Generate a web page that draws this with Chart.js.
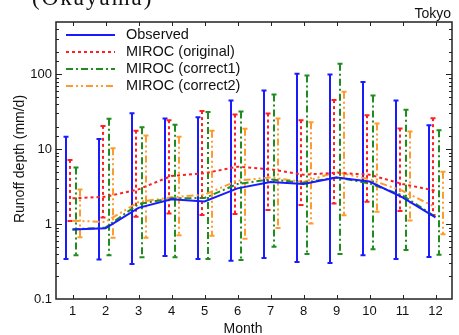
<!DOCTYPE html>
<html>
<head>
<meta charset="utf-8">
<script src="https://cdn.jsdelivr.net/npm/chart.js@4.4.1/dist/chart.umd.min.js"></script>
<style>
body { margin: 0; background: #fff; }
</style>
</head>
<body>
<canvas id="runoff" width="459" height="335"></canvas>
<script>
// monthly runoff depth (mm/d), Tokyo
var months = [1, 2, 3, 4, 5, 6, 7, 8, 9, 10, 11, 12];
var yLabels = [0.1, 1, 10, 100];

var obsMean = [0.85, 0.88, 1.65, 2.14, 2.01, 3.0, 3.65, 3.43, 4.2, 3.7, 2.28, 1.23];
var obsHigh = [14.7, 13.7, 30.3, 25.7, 26.8, 44.7, 60.9, 102, 99.7, 78.9, 44.7, 20.9];
var obsLow = [0.343, 0.337, 0.294, 0.376, 0.343, 0.323, 0.354, 0.313, 0.303, 0.385, 0.343, 0.365];

var origMean = [2.21, 2.32, 2.91, 4.4, 4.77, 5.85, 5.4, 4.57, 4.85, 4.57, 3.43, 2.79];
var origHigh = [7.2, 20.5, 17.7, 24.4, 32.3, 29, 30, 24.4, 45.3, 28.5, 18.9, 26];
var origLow = [1.1, 1.23, 1.25, 1.39, 1.32, 1.36, 1.54, 1.8, 1.89, 1.99, 1.5, 1.32];

var c1Mean = [0.85, 0.9, 1.85, 2.21, 2.23, 3.43, 3.96, 3.57, 4.2, 3.5, 2.42, 1.25];
var c1High = [5.7, 25.5, 19.7, 21.3, 31.3, 31.9, 53.8, 96.7, 139, 52.2, 33.6, 17.9];
var c1Low = [0.385, 0.385, 0.362, 0.362, 0.343, 0.333, 0.5, 0.4, 0.4, 0.46, 0.45, 0.39];

var c2Mean = [1.11, 1.07, 1.97, 2.28, 2.47, 3.8, 4.2, 3.65, 4.97, 3.96, 2.79, 1.68];
var c2High = [2.9, 10.3, 15.2, 14.7, 17.7, 18.7, 25.7, 23, 58.5, 22, 17.2, 5.0];
var c2Low = [0.67, 0.66, 0.66, 0.71, 0.70, 0.64, 0.89, 1.02, 1.31, 1.46, 1.12, 0.73];

var FONT = '"Liberation Sans", Arial, sans-serif';

function pts(vals) {
    return months.map(function (m, i) { return { x: m, y: vals[i] }; });
}

function series(label, mean, lo, hi, color, dash, shift) {
    return {
        label: label,
        data: pts(mean),
        lo: lo,
        hi: hi,
        shift: shift,
        borderColor: color,
        backgroundColor: color,
        borderDash: dash,
        borderWidth: 2,
        pointRadius: 0,
        fill: false,
        tension: 0
    };
}

// error bars, frame, inward ticks, legend and labels
var decor = {
    id: 'decor',
    beforeDatasetsDraw: function (chart) {
        var ctx = chart.ctx, xs = chart.scales.x, ys = chart.scales.y, a = chart.chartArea;
        ctx.save();
        ctx.beginPath();
        ctx.rect(a.left, a.top, a.right - a.left, a.bottom - a.top);
        ctx.clip();
        chart.data.datasets.forEach(function (ds) {
            ctx.strokeStyle = ds.borderColor;
            ctx.lineWidth = 2;
            months.forEach(function (m, i) {
                var x = Math.round(xs.getPixelForValue(m + ds.shift));
                var y1 = ys.getPixelForValue(ds.hi[i]);
                var y2 = ys.getPixelForValue(ds.lo[i]);
                ctx.setLineDash(ds.borderDash);
                ctx.beginPath();
                ctx.moveTo(x, y1);
                ctx.lineTo(x, y2);
                ctx.stroke();
                ctx.setLineDash([]);
                ctx.beginPath();
                ctx.moveTo(x - 2.5, y1);
                ctx.lineTo(x + 2.5, y1);
                ctx.moveTo(x - 2.5, y2);
                ctx.lineTo(x + 2.5, y2);
                ctx.stroke();
            });
        });
        ctx.restore();
    },
    afterDraw: function (chart) {
        var ctx = chart.ctx, xs = chart.scales.x, ys = chart.scales.y, a = chart.chartArea;
        ctx.save();
        ctx.strokeStyle = '#222';
        ctx.lineWidth = 1.5;
        ctx.strokeRect(a.left, a.top, a.right - a.left, a.bottom - a.top);

        ctx.lineWidth = 1;
        ctx.beginPath();
        xs.ticks.forEach(function (t) {
            var x = Math.round(xs.getPixelForValue(t.value)) + 0.5;
            ctx.moveTo(x, a.bottom);
            ctx.lineTo(x, a.bottom - 4);
            ctx.moveTo(x, a.top);
            ctx.lineTo(x, a.top + 4);
        });
        ys.ticks.forEach(function (t) {
            var lg = Math.log10(t.value);
            var len = Math.abs(lg - Math.round(lg)) < 1e-6 ? 6 : 3;
            var y = Math.round(ys.getPixelForValue(t.value)) + 0.5;
            if (y < a.top + 1 || y > a.bottom - 1) return;
            ctx.moveTo(a.left, y);
            ctx.lineTo(a.left + len, y);
            ctx.moveTo(a.right, y);
            ctx.lineTo(a.right - len, y);
        });
        ctx.stroke();

        // legend
        ctx.font = '14.5px ' + FONT;
        ctx.textBaseline = 'middle';
        ctx.fillStyle = '#111';
        chart.data.datasets.forEach(function (ds, i) {
            var y = 35 + i * 17;
            ctx.strokeStyle = ds.borderColor;
            ctx.lineWidth = 2;
            ctx.setLineDash(ds.borderDash);
            ctx.beginPath();
            ctx.moveTo(66, y);
            ctx.lineTo(115, y);
            ctx.stroke();
            ctx.setLineDash([]);
            ctx.fillText(ds.label, 126, y);
        });

        // titles
        ctx.font = '14px ' + FONT;
        ctx.fillStyle = '#111';
        ctx.textAlign = 'right';
        ctx.textBaseline = 'alphabetic';
        ctx.fillText('Tokyo', 451, 18);

        ctx.textAlign = 'center';
        ctx.fillText('Month', 243, 333);

        ctx.save();
        ctx.translate(24, 159);
        ctx.rotate(-Math.PI / 2);
        ctx.fillText('Runoff depth (mm/d)', 0, 0);
        ctx.restore();

        ctx.textAlign = 'left';
        ctx.font = '23px "Liberation Serif", "Times New Roman", serif';
        ctx.letterSpacing = '2px';
        ctx.fillText('(Okayama)', 32, 5);
        ctx.restore();
    }
};

var ctx = document.getElementById('runoff').getContext('2d');
var chart = new Chart(ctx, {
    type: 'line',
    data: {
        datasets: [
            series('Observed', obsMean, obsLow, obsHigh, '#1a1aff', [], -0.2),
            series('MIROC (original)', origMean, origLow, origHigh, '#ff1f1f', [3, 3], -0.07),
            series('MIROC (correct1)', c1Mean, c1Low, c1High, '#1e8c1e', [7, 3, 2, 3], 0.1),
            series('MIROC (correct2)', c2Mean, c2Low, c2High, '#ff9a2e', [7, 3, 2, 3, 2, 3], 0.23)
        ]
    },
    options: {
        responsive: false,
        animation: false,
        devicePixelRatio: 1,
        layout: { padding: { top: 22, right: 7, left: 0, bottom: 0 } },
        plugins: {
            legend: { display: false },
            tooltip: { enabled: false }
        },
        scales: {
            x: {
                type: 'linear',
                min: 0.5,
                max: 12.5,
                afterFit: function (s) { s.height = 36; },
                afterBuildTicks: function (s) {
                    s.ticks = months.map(function (m) { return { value: m }; });
                },
                grid: { display: false, drawTicks: false },
                border: { display: false },
                ticks: { color: '#111', font: { size: 13, family: FONT }, padding: 5, autoSkip: false }
            },
            y: {
                type: 'logarithmic',
                min: 0.1,
                max: 500,
                afterFit: function (s) { s.width = 56; },
                grid: { display: false, drawTicks: false },
                border: { display: false },
                ticks: {
                    color: '#111',
                    font: { size: 13, family: FONT },
                    padding: 4,
                    autoSkip: false,
                    callback: function (v) {
                        return yLabels.indexOf(v) >= 0 ? String(v) : '';
                    }
                }
            }
        }
    },
    plugins: [decor]
});
</script>
</body>
</html>
